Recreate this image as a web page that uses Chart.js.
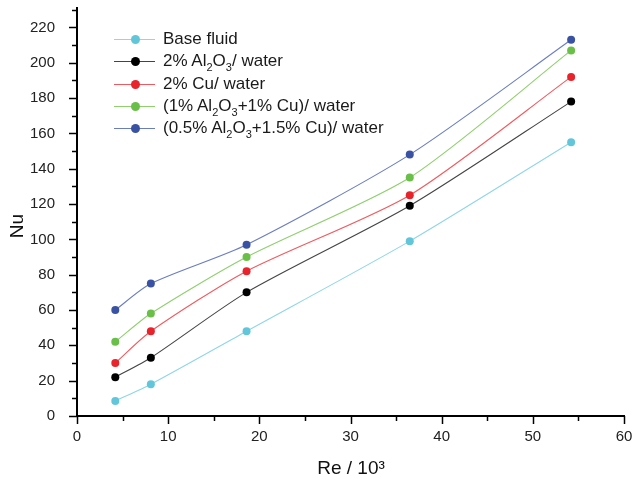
<!DOCTYPE html>
<html><head><meta charset="utf-8">
<script src="https://cdn.jsdelivr.net/npm/chart.js@4/dist/chart.umd.min.js"></script>
<style>
html,body{margin:0;padding:0;background:#fff;}
#wrap{position:relative;width:633px;height:483px;}
#legend{position:absolute;left:114px;top:28px;font-family:"Liberation Sans",Arial,sans-serif;font-size:17px;color:#1a1a1a;}
.row{position:relative;height:22.3px;line-height:22px;white-space:nowrap;}
.smp{position:absolute;left:0;top:11px;width:41px;height:1px;}
.dot{position:absolute;left:17px;top:7px;width:9px;height:9px;border-radius:50%;}
.txt{position:absolute;left:49px;top:0;}
sub{font-size:11px;vertical-align:-5px;line-height:0;}
</style></head>
<body><div id="wrap"><canvas id="c" width="633" height="483"></canvas><div id="legend"></div></div>
<script>
// ---- data ----
const reValues = [4.2, 8.1, 18.6, 36.5, 54.2];
const baseFluid = [8.5, 18, 48, 99, 155];
const al2o3Water = [22, 33, 70, 119, 178];
const cuWater = [30, 48, 82, 125, 192];
const hybrid1 = [42, 58, 90, 135, 207];
const hybrid2 = [60, 75, 97, 148, 213];
const seriesNames = ["Base fluid", "2% Al2O3/ water", "2% Cu/ water", "(1% Al2O3+1% Cu)/ water", "(0.5% Al2O3+1.5% Cu)/ water"];
const seriesHtml = ["Base fluid", "2% Al<sub>2</sub>O<sub>3</sub>/ water", "2% Cu/ water", "(1% Al<sub>2</sub>O<sub>3</sub>+1% Cu)/ water", "(0.5% Al<sub>2</sub>O<sub>3</sub>+1.5% Cu)/ water"];
const xTicks = [0, 10, 20, 30, 40, 50, 60];
const yTicks = [0, 20, 40, 60, 80, 100, 120, 140, 160, 180, 200, 220];
const xTitle = "Re / 10\u00B3";
const yTitle = "Nu";

const pointColors = ["#62c6db", "#000000", "#e8232b", "#69bf47", "#3a52a3"];
const lineColors = ["#8fd6e6", "#444444", "#f05a5f", "#8fcf6e", "#6a7dc0"];
const allSeries = [baseFluid, al2o3Water, cuWater, hybrid1, hybrid2];

const datasets = allSeries.map((s, i) => ({
  label: seriesNames[i],
  data: s.map((v, j) => ({x: reValues[j], y: v})),
  borderColor: lineColors[i],
  backgroundColor: pointColors[i],
  pointBackgroundColor: pointColors[i],
  pointBorderColor: pointColors[i],
  pointRadius: 4,
  pointBorderWidth: 0,
  borderWidth: 1.1,
  tension: 0.25,
  fill: false
}));

const FONT = '"Liberation Sans", Arial, sans-serif';

const extras = {
  id: 'extras',
  afterDraw(chart) {
    const ctx = chart.ctx;
    const xs = chart.scales.x, ys = chart.scales.y;
    ctx.save();
    ctx.strokeStyle = '#000';
    ctx.lineWidth = 1.5;
    for (let v = xs.min; v <= xs.max + 1e-9; v += 5) {
      const px = Math.round(xs.getPixelForValue(v)) + 0.5;
      const major = v % 10 === 0;
      ctx.beginPath();
      ctx.moveTo(px, xs.top);
      ctx.lineTo(px, xs.top + (major ? 8 : 5));
      ctx.stroke();
    }
    for (let v = 0; v <= 230; v += 10) {
      const py = Math.round(ys.getPixelForValue(v)) + 0.5;
      const major = v % 20 === 0;
      ctx.beginPath();
      ctx.moveTo(ys.right, py);
      ctx.lineTo(ys.right - (major ? 8 : 5), py);
      ctx.stroke();
    }
    ctx.fillStyle = '#111';
    ctx.font = '19px ' + FONT;
    ctx.textAlign = 'center';
    ctx.textBaseline = 'middle';
    ctx.fillText(xTitle, 351, 469);
    ctx.translate(18, 226);
    ctx.rotate(-Math.PI / 2);
    ctx.fillText(yTitle, 0, 0);
    ctx.restore();
  }
};

new Chart(document.getElementById('c'), {
  type: 'line',
  data: {datasets},
  options: {
    responsive: false,
    animation: false,
    layout: {padding: {left: 0, right: 9, top: 8, bottom: 0}},
    plugins: {legend: {display: false}, tooltip: {enabled: false}},
    scales: {
      x: {
        type: 'linear', min: 0, max: 60,
        afterBuildTicks: s => { s.ticks = xTicks.map(v => ({value: v})); },
        afterFit: s => { s.height = 67; s.paddingLeft = 0; s.paddingRight = 0; },
        grid: {display: false},
        border: {display: true, color: '#000', width: 2},
        ticks: {color: '#222', font: {family: FONT, size: 15}, padding: 4, maxRotation: 0}
      },
      y: {
        type: 'linear', min: 0, max: 231,
        afterBuildTicks: s => { s.ticks = yTicks.map(v => ({value: v})); },
        afterFit: s => { s.width = 77; s.paddingTop = 0; s.paddingBottom = 0; },
        grid: {display: false},
        border: {display: true, color: '#000', width: 2},
        ticks: {color: '#222', font: {family: FONT, size: 15}, padding: 14}
      }
    }
  },
  plugins: [extras]
});

const lg = document.getElementById('legend');
seriesHtml.forEach((h, i) => {
  const r = document.createElement('div');
  r.className = 'row';
  r.innerHTML = '<div class="smp" style="background:' + lineColors[i] + '"></div><div class="dot" style="background:' + pointColors[i] + '"></div><div class="txt">' + h + '</div>';
  lg.appendChild(r);
});
</script></body></html>
